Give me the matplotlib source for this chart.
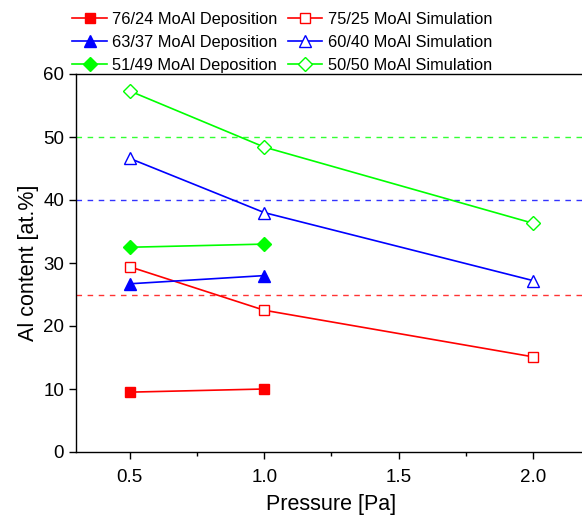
import matplotlib.pyplot as plt
import numpy as np

plt.rcParams['font.family'] = ['Liberation Sans', 'DejaVu Sans']

# pressures [Pa]
p_dep = [0.5, 1.0]
p_sim = [0.5, 1.0, 2.0]

# Al content [at.%]
dep_76_24 = [9.5, 10.0]
dep_63_37 = [26.7, 28.0]
dep_51_49 = [32.5, 33.0]
sim_75_25 = [29.4, 22.5, 15.1]
sim_60_40 = [46.6, 38.0, 27.2]
sim_50_50 = [57.3, 48.4, 36.3]

# nominal compositions (dashed guides)
nominal = [25, 40, 50]
nominal_colors = ['#ff0000', '#0000ff', '#00ff00']

fig = plt.figure(figsize=(5.82, 5.15), dpi=100)
ax = fig.add_axes([76 / 582, 63 / 515, 511 / 582, 378 / 515])

for y, c in zip(nominal, nominal_colors):
    ax.axhline(y, color=c, ls=(0, (4, 4)), lw=1.0, alpha=0.8)

kw = dict(lw=1.2, ms=7.5)
h1, = ax.plot(p_dep, dep_76_24, color='#ff0000', marker='s', label='76/24 MoAl Deposition', **kw)
h2, = ax.plot(p_sim, sim_75_25, color='#ff0000', marker='s', mfc='white', label='75/25 MoAl Simulation', **kw)
h3, = ax.plot(p_dep, dep_63_37, color='#0000ff', marker='^', ms=8.5, lw=1.2, label='63/37 MoAl Deposition')
h4, = ax.plot(p_sim, sim_60_40, color='#0000ff', marker='^', ms=8.5, lw=1.2, mfc='white', label='60/40 MoAl Simulation')
h5, = ax.plot(p_dep, dep_51_49, color='#00ff00', marker='D', label='51/49 MoAl Deposition', **kw)
h6, = ax.plot(p_sim, sim_50_50, color='#00ff00', marker='D', mfc='white', label='50/50 MoAl Simulation', **kw)

ax.set_xlim(0.3, 2.2)
ax.set_ylim(0, 60)
ax.set_xticks([0.5, 1.0, 1.5, 2.0])
ax.set_xticks([0.75, 1.25, 1.75], minor=True)
ax.set_yticks(np.arange(0, 61, 10))
ax.tick_params(direction='out', labelsize=13.5, length=5, width=1)
ax.tick_params(axis='x', pad=7)
ax.tick_params(which='minor', direction='out', length=3, width=1)
ax.spines['right'].set_visible(False)
for s in ['left', 'bottom', 'top']:
    ax.spines[s].set_linewidth(1.0)

ax.set_xlabel('Pressure [Pa]', fontsize=15.5, labelpad=6)
ax.set_ylabel('Al content [at.%]', fontsize=15.5, labelpad=3)

handles = [h1, h3, h5, h2, h4, h6]
ax.legend(handles=handles, labels=[h.get_label() for h in handles],
          loc='lower left', bbox_to_anchor=(-0.02, 0.985), ncol=2, frameon=False,
          fontsize=11.8, handlelength=2.1, columnspacing=0.6, labelspacing=0.5,
          handletextpad=0.35, borderaxespad=0)

fig.savefig('out.png', dpi=100)
